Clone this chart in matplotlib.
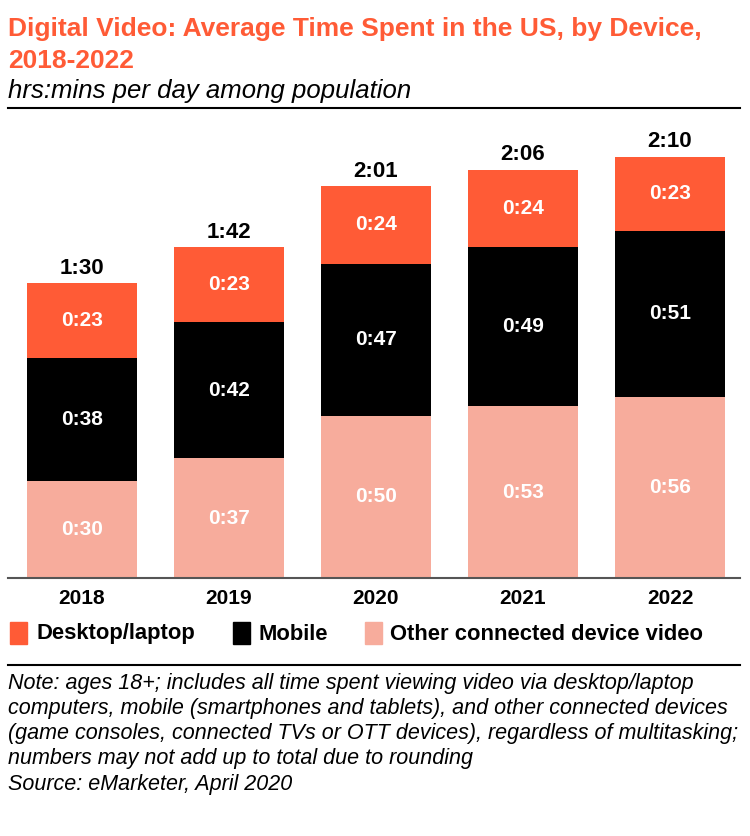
import numpy as np
import matplotlib.pyplot as plt

years = ["2018", "2019", "2020", "2021", "2022"]
other = [30, 37, 50, 53, 56]      # minutes
mobile = [38, 42, 47, 49, 51]
desktop = [23, 23, 24, 24, 23]
totals = ["1:30", "1:42", "2:01", "2:06", "2:10"]
series_names = ["Desktop/laptop", "Mobile", "Other connected device video"]

ORANGE = "#FF5B36"
PINK = "#F7AC9C"
FAM = ["Liberation Sans Narrow", "Liberation Sans", "DejaVu Sans"]
plt.rcParams["font.family"] = FAM

W, H = 750, 836
fig = plt.figure(figsize=(W / 100, H / 100), dpi=100)

def fx(px):
    return px / W

def fy(py):
    return 1 - py / H

# title and subtitle
fig.text(fx(8), fy(29), "Digital Video: Average Time Spent in the US, by Device,",
         color=ORANGE, fontsize=19, fontweight="bold", va="center", ha="left")
fig.text(fx(8), fy(61), "2018-2022", color=ORANGE, fontsize=19,
         fontweight="bold", va="center", ha="left")
fig.text(fx(8), fy(91), "hrs:mins per day among population", color="black",
         fontsize=18.5, style="italic", va="center", ha="left")
fig.add_artist(plt.Line2D([fx(8), fx(740)], [fy(108), fy(108)],
                          color="black", lw=1.5))

ax = fig.add_axes([fx(8), fy(578), fx(740) - fx(8), fy(110) - fy(578)])
x = np.arange(len(years))
bw = 0.748
other = np.array(other)
mobile = np.array(mobile)
desktop = np.array(desktop)

ax.bar(x, other, bw, color=PINK)
ax.bar(x, mobile, bw, bottom=other, color="black")
ax.bar(x, desktop, bw, bottom=other + mobile, color=ORANGE)

def fmt(m):
    return f"{m // 60}:{m % 60:02d}"

for i in range(len(years)):
    ax.text(x[i], other[i] / 2, fmt(other[i]), color="white", ha="center",
            va="center", fontsize=15, fontweight="bold")
    ax.text(x[i], other[i] + mobile[i] / 2, fmt(mobile[i]), color="white",
            ha="center", va="center", fontsize=15, fontweight="bold")
    ax.text(x[i], other[i] + mobile[i] + desktop[i] / 2, fmt(desktop[i]),
            color="white", ha="center", va="center", fontsize=15,
            fontweight="bold")
    ax.text(x[i], other[i] + mobile[i] + desktop[i] + 1.3, totals[i],
            color="black", ha="center", va="bottom", fontsize=16,
            fontweight="bold")

ax.set_xlim(-0.503, 4.476)
ax.set_ylim(0, 144.4)
for s in ["top", "right", "left"]:
    ax.spines[s].set_visible(False)
ax.spines["bottom"].set_color("#555555")
ax.spines["bottom"].set_linewidth(1.5)
ax.set_yticks([])
ax.set_xticks(x)
ax.set_xticklabels(years, fontsize=15, fontweight="bold")
ax.tick_params(axis="x", length=0, pad=8)

# legend
legend_items = [(10, 36, ORANGE), (233, 258, "black"), (365, 390, PINK)]
for (sx, tx, c), name in zip(legend_items, series_names):
    fig.add_artist(plt.Rectangle((fx(sx), fy(644)), fx(17), 22 / H,
                                 color=c, transform=fig.transFigure))
    fig.text(fx(tx), fy(634), name, fontsize=15.8, fontweight="bold",
             va="center", ha="left")

fig.add_artist(plt.Line2D([fx(8), fx(740)], [fy(665), fy(665)],
                          color="black", lw=1.5))

notes = ["Note: ages 18+; includes all time spent viewing video via desktop/laptop",
         "computers, mobile (smartphones and tablets), and other connected devices",
         "(game consoles, connected TVs or OTT devices), regardless of multitasking;",
         "numbers may not add up to total due to rounding",
         "Source: eMarketer, April 2020"]
for k, line in enumerate(notes):
    fig.text(fx(8), fy(683 + 25.3 * k), line, fontsize=15.5, style="italic",
             va="center", ha="left")

fig.savefig("out.png", dpi=100)
